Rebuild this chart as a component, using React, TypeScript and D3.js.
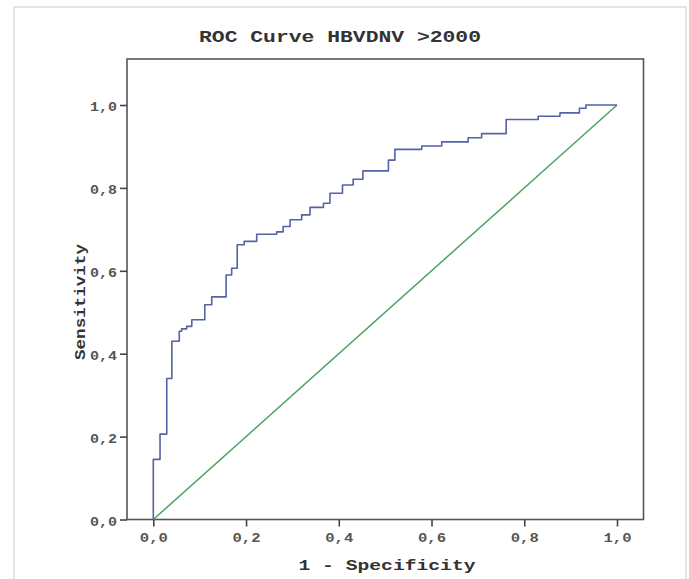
import React, { useEffect, useRef } from 'react';
import * as d3 from 'd3';

// ROC curve corners (1 - specificity, sensitivity)
const fprValues = [0, 0, 0.0145, 0.029, 0.04, 0.056, 0.061, 0.072, 0.083, 0.111, 0.126, 0.157, 0.169, 0.181, 0.196, 0.223, 0.266, 0.28, 0.295, 0.32, 0.338, 0.367, 0.381, 0.408, 0.431, 0.452, 0.507, 0.521, 0.579, 0.622, 0.679, 0.708, 0.761, 0.83, 0.877, 0.919, 0.933, 1];
const tprValues = [0, 0.145, 0.206, 0.34, 0.43, 0.454, 0.46, 0.466, 0.482, 0.518, 0.537, 0.59, 0.606, 0.663, 0.671, 0.688, 0.694, 0.707, 0.723, 0.735, 0.753, 0.763, 0.787, 0.807, 0.821, 0.841, 0.867, 0.893, 0.901, 0.911, 0.921, 0.931, 0.965, 0.973, 0.981, 0.992, 1, 1];
const referenceLine = [0, 1];
const tickValues = [0, 0.2, 0.4, 0.6, 0.8, 1];
const tickLabels = ['0,0', '0,2', '0,4', '0,6', '0,8', '1,0'];

const WIDTH = 689;
const HEIGHT = 579;
const FONT = '"Liberation Mono", "DejaVu Sans Mono", monospace';

const App = () => {
    const svgRef = useRef<SVGSVGElement | null>(null);

    useEffect(() => {
        const svg = d3.select(svgRef.current);
        svg.selectAll('*').remove();

        const box = { left: 127, right: 643.5, top: 59, bottom: 519.5 };

        const x = d3.scaleLinear().domain([0, 1]).range([153.3, 617]);
        const y = d3.scaleLinear().domain([0, 1]).range([box.bottom, 105]);

        // outer frame of the figure
        svg.append('rect')
            .attr('x', 14).attr('y', 7)
            .attr('width', 672).attr('height', 590)
            .attr('fill', '#fff')
            .attr('stroke', '#e4e4e4')
            .attr('stroke-width', 2);

        // title
        svg.append('text')
            .attr('x', 340).attr('y', 42)
            .attr('text-anchor', 'middle')
            .attr('font-family', FONT)
            .attr('font-weight', 700)
            .attr('font-size', 16)
            .attr('fill', '#333')
            .attr('textLength', 282)
            .attr('lengthAdjust', 'spacingAndGlyphs')
            .text('ROC Curve HBVDNV >2000');

        // plot frame
        svg.append('rect')
            .attr('x', box.left).attr('y', box.top)
            .attr('width', box.right - box.left)
            .attr('height', box.bottom - box.top)
            .attr('fill', 'none')
            .attr('stroke', '#555')
            .attr('stroke-width', 1.6);

        // y axis
        const yAxis = svg.append('g')
            .attr('transform', `translate(${box.left},0)`)
            .call(d3.axisLeft(y).tickValues(tickValues).tickSize(7).tickPadding(3)
                .tickFormat((d, i) => tickLabels[i]));
        yAxis.select('.domain').remove();
        yAxis.selectAll('line').attr('stroke', '#444').attr('stroke-width', 1.6);
        yAxis.selectAll('text')
            .attr('font-family', FONT)
            .attr('font-weight', 700)
            .attr('font-size', 13)
            .attr('fill', '#555')
            .attr('dy', '0.45em')
            .attr('textLength', 27)
            .attr('lengthAdjust', 'spacingAndGlyphs');

        // x axis
        const xAxis = svg.append('g')
            .attr('transform', `translate(0,${box.bottom})`)
            .call(d3.axisBottom(x).tickValues(tickValues).tickSize(7).tickPadding(6)
                .tickFormat((d, i) => tickLabels[i]));
        xAxis.select('.domain').remove();
        xAxis.selectAll('line').attr('stroke', '#444').attr('stroke-width', 1.6);
        xAxis.selectAll('text')
            .attr('font-family', FONT)
            .attr('font-weight', 700)
            .attr('font-size', 13)
            .attr('fill', '#555')
            .attr('textLength', 28)
            .attr('lengthAdjust', 'spacingAndGlyphs');

        // axis titles
        svg.append('text')
            .attr('x', 387).attr('y', 570)
            .attr('text-anchor', 'middle')
            .attr('font-family', FONT)
            .attr('font-weight', 700)
            .attr('font-size', 15)
            .attr('fill', '#333')
            .attr('textLength', 177)
            .attr('lengthAdjust', 'spacingAndGlyphs')
            .text('1 - Specificity');

        svg.append('text')
            .attr('transform', `translate(85,302) rotate(-90)`)
            .attr('text-anchor', 'middle')
            .attr('font-family', FONT)
            .attr('font-weight', 700)
            .attr('font-size', 15)
            .attr('fill', '#333')
            .attr('textLength', 116)
            .attr('lengthAdjust', 'spacingAndGlyphs')
            .text('Sensitivity');

        // reference diagonal
        const diag = d3.line<number>().x(d => x(d)).y(d => y(d));
        svg.append('path')
            .datum(referenceLine)
            .attr('fill', 'none')
            .attr('stroke', '#4aa460')
            .attr('stroke-width', 1.5)
            .attr('d', diag);

        // ROC step curve
        const points = fprValues.map((f, i) => [f, tprValues[i]] as [number, number]);
        const line = d3.line<[number, number]>()
            .curve(d3.curveStepAfter)
            .x(d => x(d[0]))
            .y(d => y(d[1]));
        svg.append('path')
            .datum(points)
            .attr('fill', 'none')
            .attr('stroke', '#5562a6')
            .attr('stroke-width', 1.6)
            .attr('stroke-linejoin', 'round')
            .attr('d', line);
    }, []);

    return (
        <svg
            ref={svgRef}
            width={WIDTH}
            height={HEIGHT}
            style={{ position: 'absolute', left: 0, top: 0, background: '#fff' }}
        />
    );
};

export default App;
